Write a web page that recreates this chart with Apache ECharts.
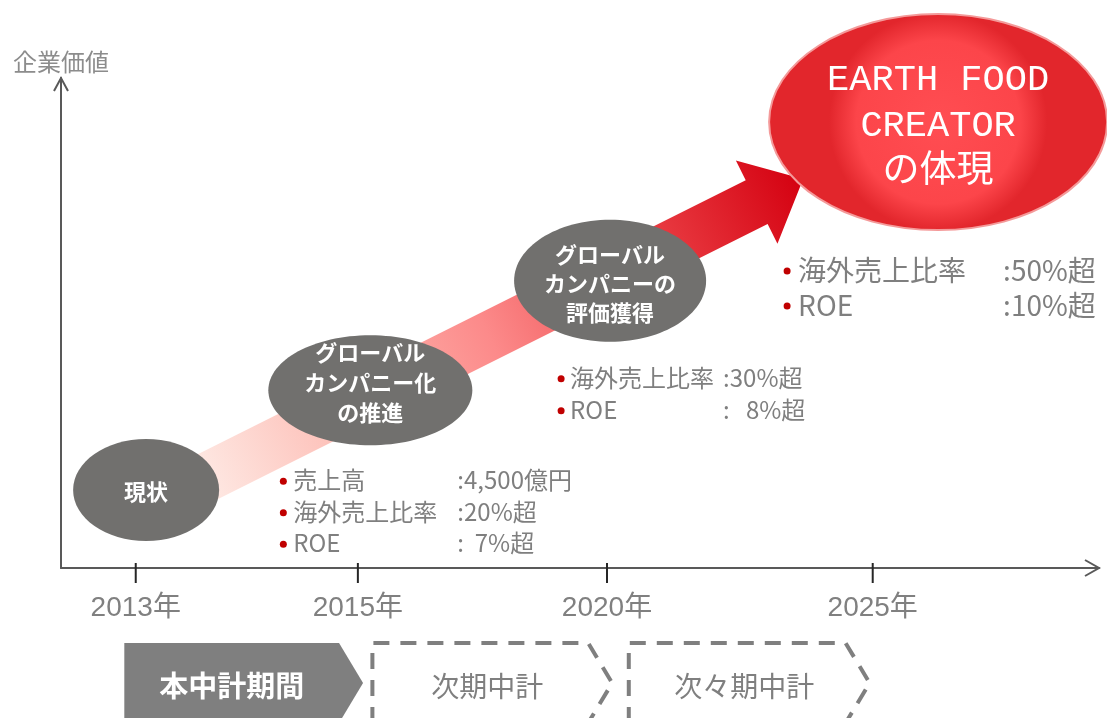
<!DOCTYPE html>
<html><head><meta charset="utf-8">
<script src="https://cdn.jsdelivr.net/npm/echarts@6/dist/echarts.min.js"></script>
<style>html,body{margin:0;padding:0;background:#fff}#c{width:1107px;height:718px}</style>
</head><body><div id="c"></div>
<script>
// ---------------- data ----------------
const yAxisName = '企業価値';
const yearLabels = ['2013年', '2015年', '2020年', '2025年'];
const yearPos = [7.2, 28.6, 52.6, 78.2];            // position of each year on the timeline axis
const milestoneNames = ['現状', 'グローバル\nカンパニー化\nの推進', 'グローバル\nカンパニーの\n評価獲得', 'EARTH FOOD\nCREATOR\nの体現'];
const milestoneTime = [8.2, 29.8, 52.9, 84.5];
const milestoneValue = [15.9, 36.3, 58.6, 91.0];
const growthArrowFrom = [11.0, 15.3];
const growthArrowTo = [71.5, 79.4];
const targets2015 = [['売上高', ':4,500億円'], ['海外売上比率', ':20%超'], ['ROE', ':  7%超']];
const targets2020 = [['海外売上比率', ':30%超'], ['ROE', ':   8%超']];
const targets2025 = [['海外売上比率', ':50%超'], ['ROE', ':10%超']];
const periodNames = ['本中計期間', '次期中計', '次々期中計'];
const periodStart = [6.1, 30.0, 54.7];
const periodEnd = [29.1, 53.1, 77.9];

// ---------------- styling / layout ----------------
const FONT = "'Noto Sans CJK JP', 'Noto Sans', sans-serif";
const GRAY_TEXT = '#7f7f7f';
const bubbleLayout = [
  { rx: 73, ry: 51, fs: 22, lh: 28, dy: 2 },
  { rx: 102, ry: 55, fs: 22, lh: 30, dy: -7 },
  { rx: 96, ry: 61, fs: 22, lh: 29, dy: 3 },
  { rx: 169, ry: 108, fs: 37, lh: 46, dy: 4, red: true }
];
const notes = [targets2015, targets2020, targets2025];
const noteLayout = [
  { m: 1, dx: -87, dy: 90, tx: 10, vx: 174, lh: 31.5, fs: 24 },
  { m: 2, dx: -49, dy: 97, tx: 9, vx: 162, lh: 32, fs: 24 },
  { m: 3, dx: -151, dy: 148, tx: 11, vx: 216, lh: 35, fs: 28 }
];

const chart = echarts.init(document.getElementById('c'), null, { renderer: 'canvas' });

function renderArrow(params, api) {
  const p1 = api.coord([api.value(0), api.value(1)]);
  const p2 = api.coord([api.value(2), api.value(3)]);
  const dx = p2[0] - p1[0], dy = p2[1] - p1[1];
  const L = Math.hypot(dx, dy);
  const ux = dx / L, uy = dy / L, nx = -uy, ny = ux;
  const w = 49 / 2, H = 93 / 2, hl = 52;
  const bx = p2[0] - ux * hl, by = p2[1] - uy * hl;
  const pts = [
    [p1[0] + nx * w, p1[1] + ny * w],
    [bx + nx * w, by + ny * w],
    [bx + nx * H, by + ny * H],
    [p2[0], p2[1]],
    [bx - nx * H, by - ny * H],
    [bx - nx * w, by - ny * w],
    [p1[0] - nx * w, p1[1] - ny * w]
  ];
  return {
    type: 'polygon', shape: { points: pts },
    style: {
      fill: {
        type: 'linear', x: p1[0], y: p1[1], x2: p2[0], y2: p2[1], global: true,
        colorStops: [
          { offset: 0, color: '#fef1ec' },
          { offset: 0.28, color: '#fdb9b1' },
          { offset: 0.5, color: '#fc8a8a' },
          { offset: 0.72, color: '#ee4a4e' },
          { offset: 1, color: '#d40010' }
        ]
      }
    }
  };
}

function renderBubble(params, api) {
  const i = params.dataIndex;
  const c = api.coord([api.value(0), api.value(1)]);
  const lay = bubbleLayout[i];
  const ell = {
    type: 'ellipse', shape: { cx: c[0], cy: c[1], rx: lay.rx, ry: lay.ry },
    style: lay.red ? {
      fill: { type: 'radial', x: 0.5, y: 0.5, r: 0.5, colorStops: [
        { offset: 0, color: '#ff4d52' }, { offset: 0.75, color: '#fc454a' }, { offset: 1, color: '#e2262c' }] },
      stroke: '#f49a9a', lineWidth: 2
    } : { fill: '#71706e' }
  };
  const txt = {
    type: 'text',
    style: {
      x: c[0], y: c[1] + lay.dy, text: milestoneNames[i], align: 'center', verticalAlign: 'middle',
      fill: '#ffffff', fontSize: lay.fs, lineHeight: lay.lh,
      fontWeight: lay.red ? 'normal' : 'bold',
      fontFamily: lay.red ? "'Liberation Mono', 'Noto Sans CJK JP', monospace" : FONT
    }
  };
  return { type: 'group', children: [ell, txt] };
}

function renderNotes(params, api) {
  const k = params.dataIndex;
  const lay = noteLayout[k];
  const c = api.coord([api.value(0), api.value(1)]);
  const x0 = c[0] + lay.dx, y0 = c[1] + lay.dy;
  const children = [];
  notes[k].forEach((row, r) => {
    const y = y0 + r * lay.lh;
    children.push({ type: 'circle', shape: { cx: x0, cy: y + 1, r: 3.5 }, style: { fill: '#c00000' } });
    children.push({ type: 'text', style: { x: x0 + lay.tx, y: y, text: row[0], align: 'left', verticalAlign: 'middle',
      fill: GRAY_TEXT, fontSize: lay.fs, fontFamily: FONT } });
    children.push({ type: 'text', style: { x: x0 + lay.vx, y: y, text: row[1], align: 'left', verticalAlign: 'middle',
      fill: GRAY_TEXT, fontSize: lay.fs, fontFamily: FONT } });
  });
  return { type: 'group', children };
}

function renderPeriod(params, api) {
  const i = params.dataIndex;
  const l = api.coord([api.value(0), 0]);
  const r = api.coord([api.value(1), 0]);
  const top = l[1] + 75, h = 80, d = 24;
  const pts = [[l[0], top + h], [l[0], top], [r[0] - d, top], [r[0], top + h / 2], [r[0] - d, top + h]];
  const filled = i === 0;
  return {
    type: 'group', children: [
      { type: 'polygon', shape: { points: pts },
        style: filled ? { fill: '#7f7f7f' } : { fill: 'rgba(0,0,0,0)', stroke: '#7f7f7f', lineWidth: 4, lineDash: [16, 11] } },
      { type: 'text', style: { x: (l[0] + r[0] - d) / 2 + (filled ? 0 : 7), y: top + h / 2 + 3, text: periodNames[i],
        align: 'center', verticalAlign: 'middle', fill: filled ? '#ffffff' : GRAY_TEXT,
        fontSize: filled ? 29 : 28, fontWeight: filled ? 'bold' : 'normal', fontFamily: FONT } }
    ]
  };
}

function renderDecor(params, api) {
  const xe = api.coord([100, 0]), ye = api.coord([0, 100]);
  const st = { stroke: '#595959', lineWidth: 2, fill: null };
  const children = [
    { type: 'polyline', shape: { points: [[xe[0] - 14, xe[1] - 8], [xe[0], xe[1]], [xe[0] - 14, xe[1] + 8]] }, style: st },
    { type: 'polyline', shape: { points: [[ye[0] - 7, ye[1] + 13], [ye[0], ye[1]], [ye[0] + 7, ye[1] + 13]] }, style: st }
  ];
  yearPos.forEach(v => {
    const p = api.coord([v, 0]);
    children.push({ type: 'line', shape: { x1: p[0], y1: p[1] - 5, x2: p[0], y2: p[1] + 15 }, style: { stroke: '#262626', lineWidth: 2 } });
  });
  return { type: 'group', children };
}

const option = {
  backgroundColor: '#ffffff',
  animation: false,
  grid: { left: 61, right: 8, top: 78, bottom: 150, containLabel: false },
  xAxis: {
    type: 'value', min: 0, max: 100,
    axisLine: { show: true, lineStyle: { color: '#595959', width: 2 } },
    axisTick: { show: false },
    splitLine: { show: false },
    axisLabel: {
      customValues: yearPos,
      formatter: v => {
        let best = 0;
        yearPos.forEach((p, i) => { if (Math.abs(p - v) < Math.abs(yearPos[best] - v)) best = i; });
        return yearLabels[best];
      },
      margin: 26, fontSize: 28, color: '#808080', fontFamily: "'Liberation Sans', 'Noto Sans CJK JP', sans-serif"
    }
  },
  yAxis: {
    type: 'value', min: 0, max: 100,
    name: yAxisName, nameLocation: 'end', nameGap: 4,
    nameTextStyle: { fontSize: 24, color: '#8c8c8c', fontFamily: FONT },
    axisLine: { show: true, lineStyle: { color: '#595959', width: 2 } },
    axisTick: { show: false }, axisLabel: { show: false }, splitLine: { show: false }
  },
  series: [
    { type: 'custom', name: 'growth', z: 2, clip: false, renderItem: renderArrow,
      encode: { x: [0, 2], y: [1, 3] },
      data: [[growthArrowFrom[0], growthArrowFrom[1], growthArrowTo[0], growthArrowTo[1]]] },
    { type: 'custom', name: 'milestones', z: 3, clip: false, renderItem: renderBubble,
      encode: { x: 0, y: 1 },
      data: milestoneTime.map((t, i) => [t, milestoneValue[i]]) },
    { type: 'custom', name: 'targets', z: 3, clip: false, renderItem: renderNotes,
      encode: { x: 0, y: 1 },
      data: noteLayout.map(l => [milestoneTime[l.m], milestoneValue[l.m]]) },
    { type: 'custom', name: 'periods', z: 3, clip: false, renderItem: renderPeriod,
      encode: { x: [0, 1] },
      data: periodStart.map((s, i) => [s, periodEnd[i]]) },
    { type: 'custom', name: 'axisDecor', z: 4, clip: false, renderItem: renderDecor,
      data: [[0, 0]] }
  ]
};
chart.setOption(option);
</script>
</body></html>
